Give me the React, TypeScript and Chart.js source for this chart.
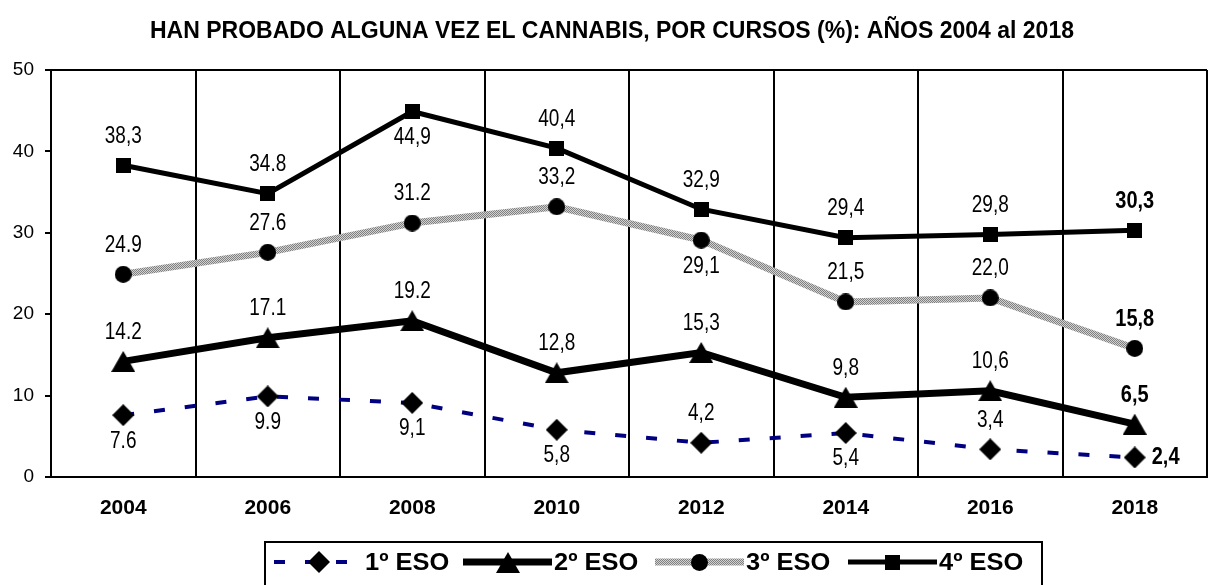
import React, { useEffect, useRef } from 'react';
import { Chart, registerables } from 'chart.js';

Chart.register(...registerables);

// ---------- data ----------
const YEARS = ['2004', '2006', '2008', '2010', '2012', '2014', '2016', '2018'];
const SERIES_NAMES = ['1º ESO', '2º ESO', '3º ESO', '4º ESO'];
const ESO1 = [7.6, 9.9, 9.1, 5.8, 4.2, 5.4, 3.4, 2.4];
const ESO2 = [14.2, 17.1, 19.2, 12.8, 15.3, 9.8, 10.6, 6.5];
const ESO3 = [24.9, 27.6, 31.2, 33.2, 29.1, 21.5, 22.0, 15.8];
const ESO4 = [38.3, 34.8, 44.9, 40.4, 32.9, 29.4, 29.8, 30.3];
const LABELS1 = ['7.6', '9.9', '9,1', '5,8', '4,2', '5,4', '3,4', '2,4'];
const LABELS2 = ['14.2', '17.1', '19.2', '12,8', '15,3', '9,8', '10,6', '6,5'];
const LABELS3 = ['24.9', '27.6', '31.2', '33,2', '29,1', '21,5', '22,0', '15,8'];
const LABELS4 = ['38,3', '34.8', '44,9', '40,4', '32,9', '29,4', '29,8', '30,3'];
const TITLE = 'HAN PROBADO ALGUNA VEZ EL CANNABIS, POR CURSOS (%): AÑOS 2004 al 2018';
const Y_MIN = 0;
const Y_MAX = 50;
const Y_STEP = 10;

// label placement relative to point
const PLACE1 = ['below', 'below', 'below', 'below', 'above', 'below', 'above', 'right'];
const PLACE2 = ['above', 'above', 'above', 'above', 'above', 'above', 'above', 'above'];
const PLACE3 = ['above', 'above', 'above', 'above', 'below', 'above', 'above', 'above'];
const PLACE4 = ['above', 'above', 'below', 'above', 'above', 'above', 'above', 'above'];

const FONT = '"Liberation Sans", Arial, Helvetica, sans-serif';
const NAVY = '#000080';

function makeMarker(kind: string): HTMLCanvasElement {
  const c = document.createElement('canvas');
  let w = 22, h = 22;
  if (kind === 'triangle') { w = 24; h = 21; }
  if (kind === 'circle') { w = 17; h = 17; }
  if (kind === 'square') { w = 15; h = 15; }
  c.width = w; c.height = h;
  const g = c.getContext('2d')!;
  g.fillStyle = '#000';
  g.beginPath();
  if (kind === 'diamond') {
    g.moveTo(w / 2, 0); g.lineTo(w, h / 2); g.lineTo(w / 2, h); g.lineTo(0, h / 2);
  } else if (kind === 'triangle') {
    g.moveTo(w / 2, 0); g.lineTo(w, h); g.lineTo(0, h);
  } else if (kind === 'circle') {
    g.arc(w / 2, h / 2, w / 2, 0, Math.PI * 2);
  } else {
    g.rect(0, 0, w, h);
  }
  g.closePath();
  g.fill();
  return c;
}

function makeGrayPattern(ctx: CanvasRenderingContext2D): CanvasPattern {
  const c = document.createElement('canvas');
  c.width = 2; c.height = 2;
  const g = c.getContext('2d')!;
  g.fillStyle = '#d2d2d2'; g.fillRect(0, 0, 2, 2);
  g.fillStyle = '#808080'; g.fillRect(0, 0, 1, 1); g.fillRect(1, 1, 1, 1);
  return ctx.createPattern(c, 'repeat')!;
}

export default function App() {
  const ref = useRef<HTMLCanvasElement | null>(null);

  useEffect(() => {
    const canvas = ref.current!;
    const ctx0 = canvas.getContext('2d')!;
    const pattern = makeGrayPattern(ctx0);
    const markers = [makeMarker('diamond'), makeMarker('triangle'), makeMarker('circle'), makeMarker('square')];
    const LABELS = [LABELS1, LABELS2, LABELS3, LABELS4];
    const PLACES = [PLACE1, PLACE2, PLACE3, PLACE4];

    const labelPlugin = {
      id: 'valueLabels',
      afterDatasetsDraw(chart: any) {
        const ctx = chart.ctx as CanvasRenderingContext2D;
        chart.data.datasets.forEach((_ds: any, di: number) => {
          const meta = chart.getDatasetMeta(di);
          const texts = LABELS[di];
          const place = PLACES[di];
          meta.data.forEach((pt: any, i: number) => {
            const bold = i === texts.length - 1;
            ctx.save();
            ctx.font = `${bold ? 'bold 20px' : '19px'} ${FONT}`;
            ctx.fillStyle = '#000';
            let x = pt.x;
            let y = pt.y;
            let align: CanvasTextAlign = 'center';
            if (place[i] === 'above') y -= 29;
            else if (place[i] === 'below') y += 26;
            else { x += 17; align = 'left'; }
            ctx.translate(x, y);
            ctx.scale(1, 1.22);
            ctx.textAlign = align;
            ctx.textBaseline = 'middle';
            ctx.fillText(texts[i], 0, 0);
            ctx.restore();
          });
        });
      },
    };

    const legendPlugin = {
      id: 'boxLegend',
      afterDraw(chart: any) {
        const ctx = chart.ctx as CanvasRenderingContext2D;
        const boxL = 265, boxT = 542, boxR = 1042;
        const cy = 562;
        const starts = [274, 463, 655, 848];
        const sampleW = 89;
        ctx.save();
        ctx.strokeStyle = '#000';
        ctx.lineWidth = 2;
        ctx.strokeRect(boxL, boxT, boxR - boxL, 80);
        chart.data.datasets.forEach((ds: any, di: number) => {
          const x0 = starts[di];
          const x1 = x0 + sampleW;
          ctx.save();
          ctx.beginPath();
          ctx.strokeStyle = ds.borderColor;
          ctx.lineWidth = ds.borderWidth;
          ctx.setLineDash(ds.borderDash || []);
          ctx.lineCap = 'butt';
          ctx.moveTo(x0, cy);
          ctx.lineTo(x1, cy);
          ctx.stroke();
          ctx.restore();
          const m = markers[di];
          const mx = Math.round((x0 + x1) / 2 - m.width / 2);
          ctx.drawImage(m, mx, Math.round(cy - m.height / 2));
          ctx.save();
          ctx.font = `bold 24px ${FONT}`;
          ctx.fillStyle = '#000';
          ctx.textAlign = 'left';
          ctx.textBaseline = 'middle';
          ctx.translate(x1 + 2, cy + 1);
          ctx.scale(1.06, 1);
          ctx.fillText(SERIES_NAMES[di], 0, 0);
          ctx.restore();
        });
        ctx.restore();
      },
    };

    const chart = new Chart(canvas, {
      type: 'line',
      data: {
        labels: YEARS,
        datasets: [
          {
            label: SERIES_NAMES[0], data: ESO1,
            borderColor: NAVY, borderWidth: 4, borderDash: [11, 20],
            pointStyle: markers[0] as any, pointRadius: 10,
            backgroundColor: '#000', tension: 0, fill: false,
          },
          {
            label: SERIES_NAMES[1], data: ESO2,
            borderColor: '#000', borderWidth: 7,
            pointStyle: markers[1] as any, pointRadius: 12,
            backgroundColor: '#000', tension: 0, fill: false,
          },
          {
            label: SERIES_NAMES[2], data: ESO3,
            borderColor: pattern as any, borderWidth: 7,
            pointStyle: markers[2] as any, pointRadius: 8,
            backgroundColor: '#000', tension: 0, fill: false,
          },
          {
            label: SERIES_NAMES[3], data: ESO4,
            borderColor: '#000', borderWidth: 5,
            pointStyle: markers[3] as any, pointRadius: 8,
            backgroundColor: '#000', tension: 0, fill: false,
          },
        ],
      },
      options: {
        responsive: false,
        animation: false,
        devicePixelRatio: 1,
        layout: { padding: { left: 0, right: 2, top: 0, bottom: 0 } },
        plugins: {
          legend: { display: false },
          tooltip: { enabled: false },
          title: {
            display: true,
            text: TITLE,
            color: '#000',
            font: { family: FONT, size: 23, weight: 'bold', lineHeight: 1.2 },
            padding: { top: 18, bottom: 24.4 },
          },
        },
        scales: {
          x: {
            type: 'category',
            offset: true,
            grid: { offset: true, color: '#000', lineWidth: 2, drawTicks: false },
            border: { display: true, color: '#000', width: 2 },
            ticks: { color: '#000', font: { family: FONT, size: 21, weight: 'bold' }, padding: 19 },
            afterFit: (s: any) => { s.height = 108; },
          },
          y: {
            min: Y_MIN,
            max: Y_MAX,
            ticks: { stepSize: Y_STEP, color: '#000', font: { family: FONT, size: 19 }, padding: 11 },
            grid: {
              color: (c: any) => (c.tick && c.tick.value === Y_MAX ? '#000' : 'rgba(0,0,0,0)'),
              lineWidth: 2,
              tickColor: '#000',
              tickLength: 6,
              drawTicks: true,
            },
            border: { display: true, color: '#000', width: 2 },
            afterFit: (s: any) => { s.width = 51; },
          },
        },
      },
      plugins: [labelPlugin, legendPlugin],
    });

    return () => chart.destroy();
  }, []);

  return (
    <div style={{ position: 'absolute', left: 0, top: 0, width: 1213, height: 585, overflow: 'hidden', background: '#fff' }}>
      <canvas ref={ref} width={1226} height={585} style={{ width: 1226, height: 585, display: 'block' }} />
    </div>
  );
}
